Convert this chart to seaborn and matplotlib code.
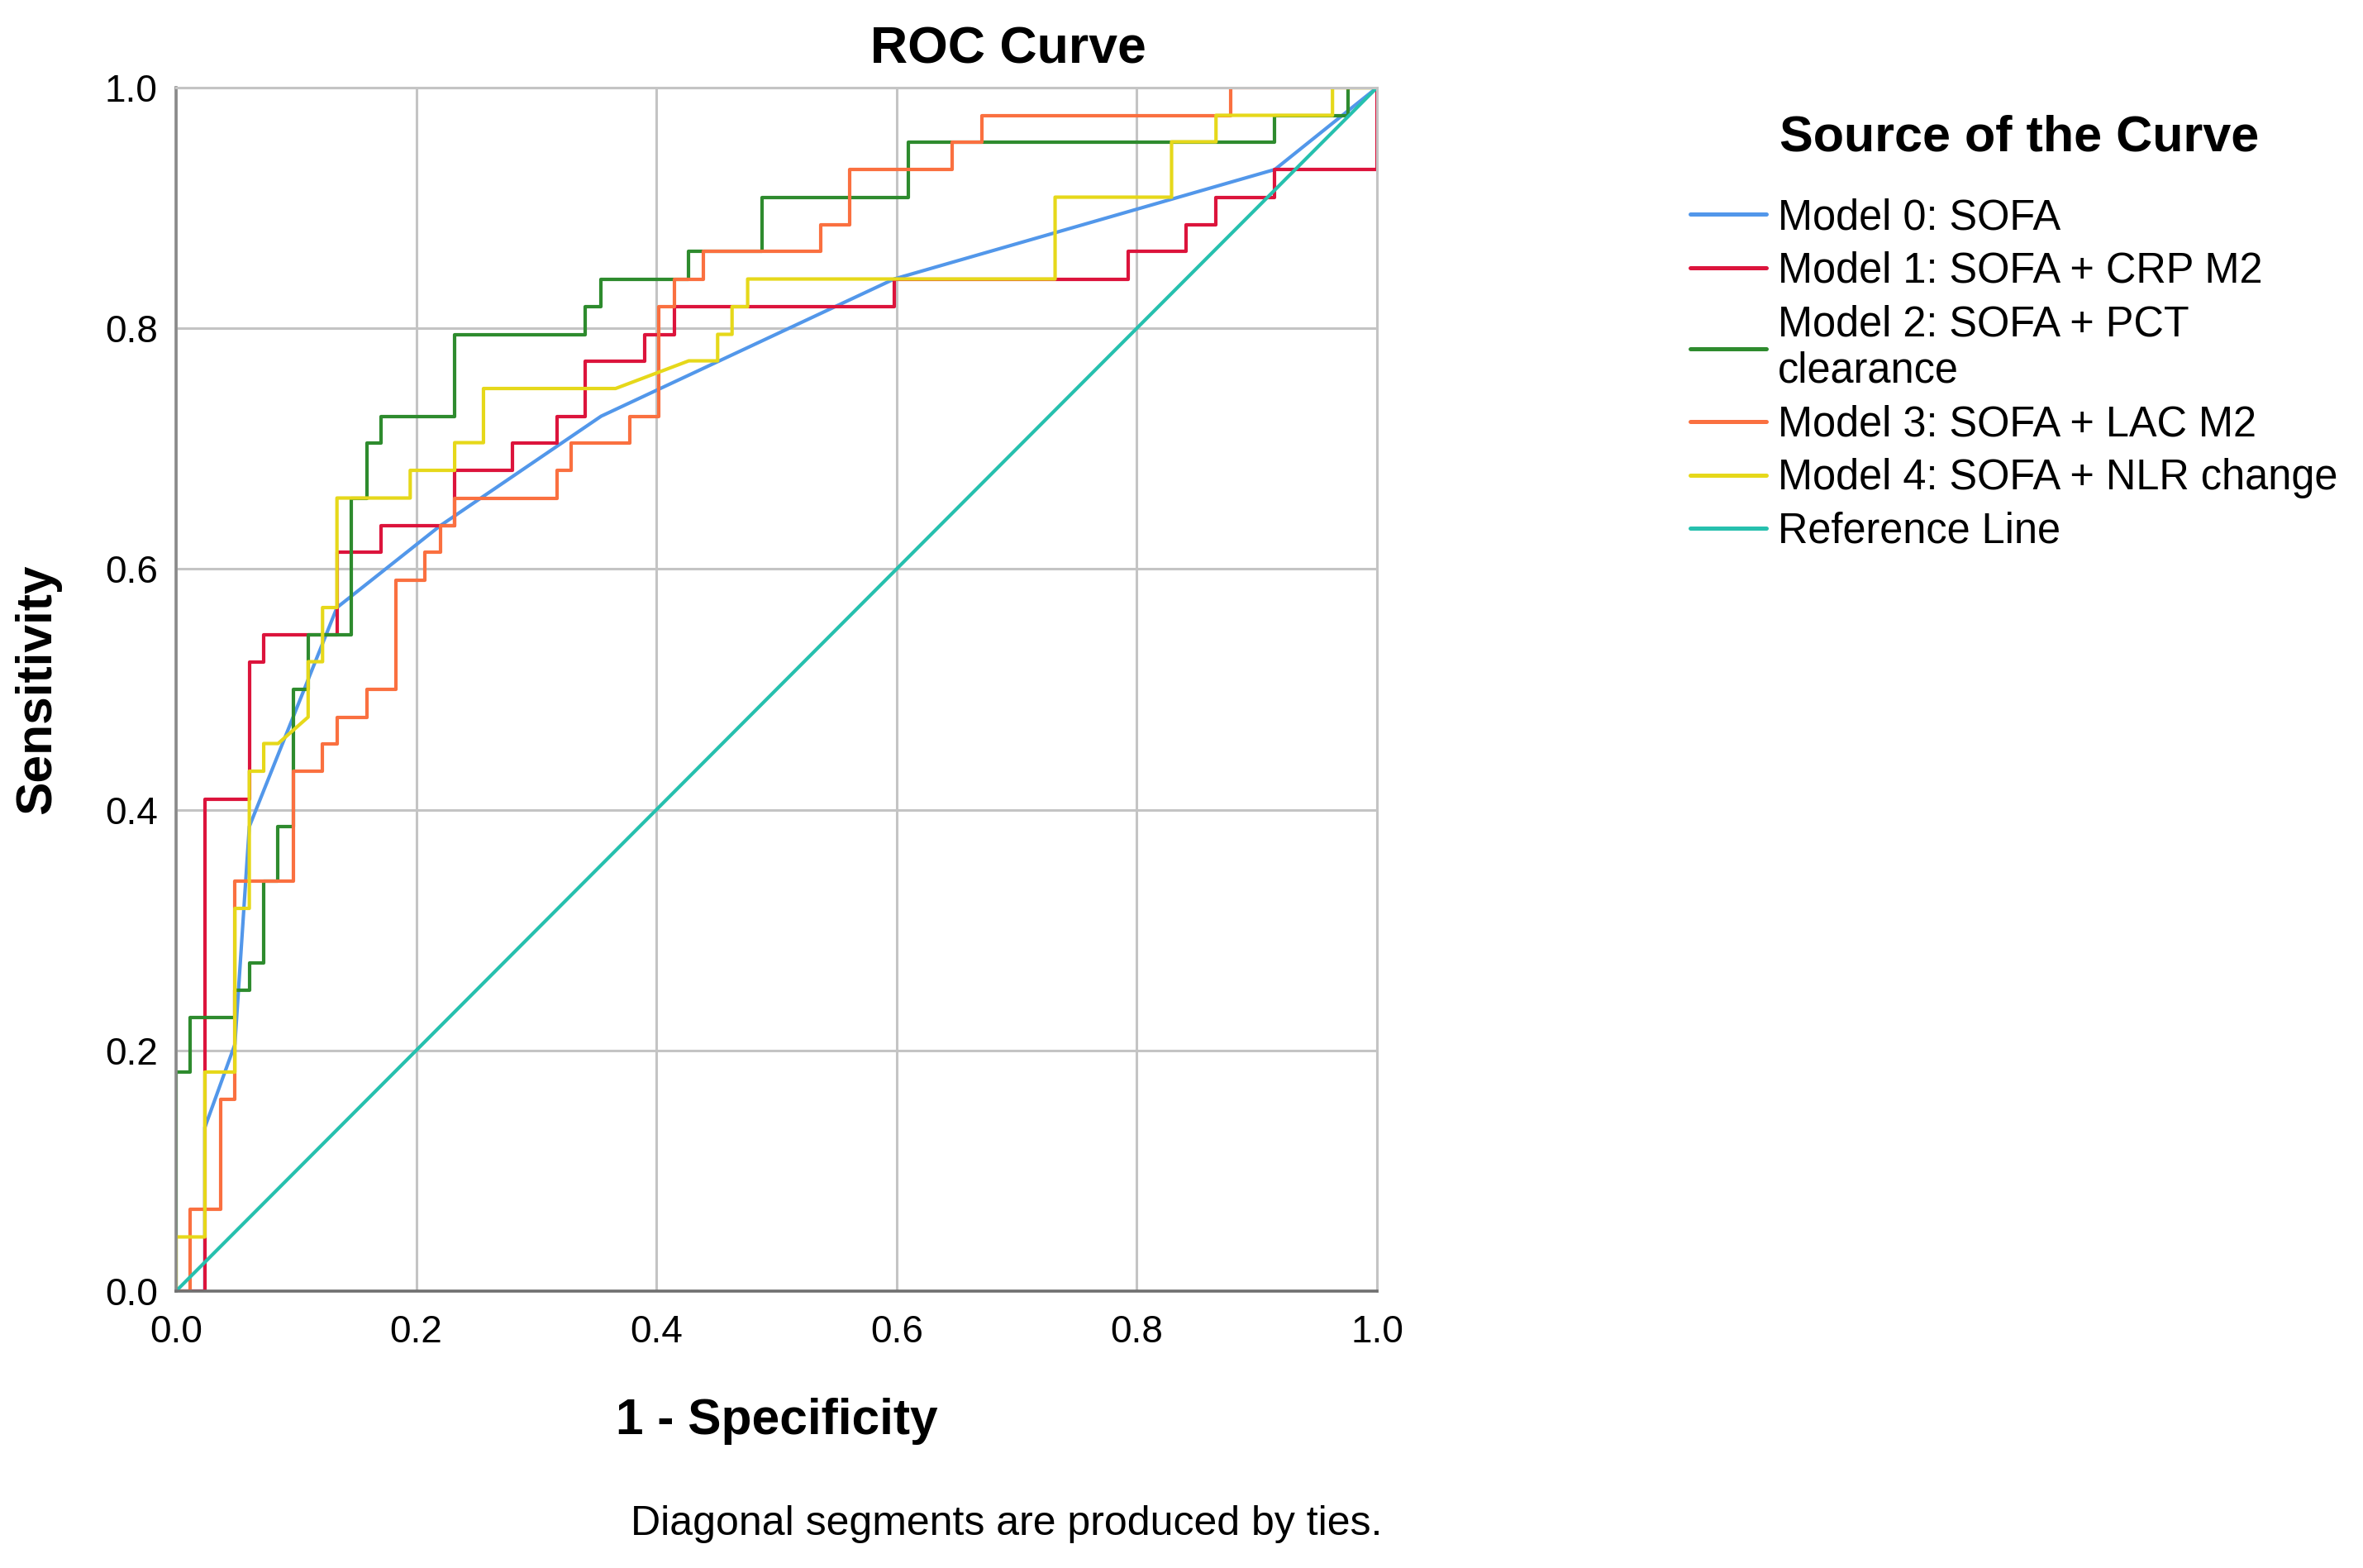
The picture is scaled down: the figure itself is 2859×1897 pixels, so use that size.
import matplotlib
matplotlib.use("Agg")
import matplotlib.pyplot as plt
from matplotlib.lines import Line2D
from matplotlib.ticker import FormatStrFormatter
import pandas as pd
import seaborn as sns

models = ["Model 0: SOFA", "Model 1: SOFA + CRP M2", "Model 2: SOFA + PCT\nclearance",
          "Model 3: SOFA + LAC M2", "Model 4: SOFA + NLR change", "Reference Line"]
colors = ["#5297ea", "#dc143c", "#2e8b2e", "#fa7040", "#e6d81a", "#26c0ae"]

# ROC points: 1 - specificity / sensitivity
fpr_m0 = [0.0, 0.024, 0.024, 0.049, 0.061, 0.134, 0.220, 0.354, 0.598, 0.915, 1.0]
tpr_m0 = [0.0, 0.0, 0.136, 0.205, 0.386, 0.568, 0.636, 0.727, 0.841, 0.932, 1.0]

fpr_m1 = [0.0, 0.024, 0.024, 0.061, 0.061, 0.073, 0.073, 0.134, 0.134, 0.171, 0.171, 0.232,
          0.232, 0.280, 0.280, 0.317, 0.317, 0.341, 0.341, 0.390, 0.390, 0.415, 0.415, 0.598,
          0.598, 0.793, 0.793, 0.841, 0.841, 0.866, 0.866, 0.915, 0.915, 1.0, 1.0]
tpr_m1 = [0.0, 0.0, 0.409, 0.409, 0.523, 0.523, 0.545, 0.545, 0.614, 0.614, 0.636, 0.636,
          0.682, 0.682, 0.705, 0.705, 0.727, 0.727, 0.773, 0.773, 0.795, 0.795, 0.818, 0.818,
          0.841, 0.841, 0.864, 0.864, 0.886, 0.886, 0.909, 0.909, 0.932, 0.932, 1.0]

fpr_m2 = [0.0, 0.0, 0.012, 0.012, 0.049, 0.049, 0.061, 0.061, 0.073, 0.073, 0.085, 0.085,
          0.098, 0.098, 0.110, 0.110, 0.146, 0.146, 0.159, 0.159, 0.171, 0.171, 0.232, 0.232,
          0.341, 0.341, 0.354, 0.354, 0.427, 0.427, 0.488, 0.488, 0.610, 0.610, 0.915, 0.915,
          0.976, 0.976, 1.0]
tpr_m2 = [0.0, 0.182, 0.182, 0.227, 0.227, 0.25, 0.25, 0.273, 0.273, 0.341, 0.341, 0.386,
          0.386, 0.5, 0.5, 0.545, 0.545, 0.659, 0.659, 0.705, 0.705, 0.727, 0.727, 0.795,
          0.795, 0.818, 0.818, 0.841, 0.841, 0.864, 0.864, 0.909, 0.909, 0.955, 0.955, 0.977,
          0.977, 1.0, 1.0]

fpr_m3 = [0.0, 0.012, 0.012, 0.037, 0.037, 0.049, 0.049, 0.098, 0.098, 0.122, 0.122, 0.134,
          0.134, 0.159, 0.159, 0.183, 0.183, 0.207, 0.207, 0.220, 0.220, 0.232, 0.232, 0.317,
          0.317, 0.329, 0.329, 0.378, 0.378, 0.402, 0.402, 0.415, 0.415, 0.439, 0.439, 0.537,
          0.537, 0.561, 0.561, 0.646, 0.646, 0.671, 0.671, 0.878, 0.878, 1.0]
tpr_m3 = [0.0, 0.0, 0.068, 0.068, 0.159, 0.159, 0.341, 0.341, 0.432, 0.432, 0.455, 0.455,
          0.477, 0.477, 0.5, 0.5, 0.591, 0.591, 0.614, 0.614, 0.636, 0.636, 0.659, 0.659,
          0.682, 0.682, 0.705, 0.705, 0.727, 0.727, 0.818, 0.818, 0.841, 0.841, 0.864, 0.864,
          0.886, 0.886, 0.932, 0.932, 0.955, 0.955, 0.977, 0.977, 1.0, 1.0]

fpr_m4 = [0.0, 0.0, 0.024, 0.024, 0.049, 0.049, 0.061, 0.061, 0.073, 0.073, 0.085, 0.110,
          0.110, 0.122, 0.122, 0.134, 0.134, 0.195, 0.195, 0.232, 0.232, 0.256, 0.256, 0.366,
          0.427, 0.451, 0.451, 0.463, 0.463, 0.476, 0.476, 0.732, 0.732, 0.829, 0.829, 0.866,
          0.866, 0.963, 0.963, 1.0]
tpr_m4 = [0.0, 0.045, 0.045, 0.182, 0.182, 0.318, 0.318, 0.432, 0.432, 0.455, 0.455, 0.477,
          0.523, 0.523, 0.568, 0.568, 0.659, 0.659, 0.682, 0.682, 0.705, 0.705, 0.75, 0.75,
          0.773, 0.773, 0.795, 0.795, 0.818, 0.818, 0.841, 0.841, 0.909, 0.909, 0.955, 0.955,
          0.977, 0.977, 1.0, 1.0]

fpr_ref = [0.0, 1.0]
tpr_ref = [0.0, 1.0]

ticks = [0.0, 0.2, 0.4, 0.6, 0.8, 1.0]

curves = [(fpr_m0, tpr_m0), (fpr_m1, tpr_m1), (fpr_m2, tpr_m2),
          (fpr_m3, tpr_m3), (fpr_m4, tpr_m4), (fpr_ref, tpr_ref)]
df = pd.concat([pd.DataFrame({"fpr": f, "tpr": t, "model": m})
                for m, (f, t) in zip(models, curves)], ignore_index=True)

sns.set_style("white")
plt.rcParams["font.family"] = ["Liberation Sans", "DejaVu Sans"]
plt.rcParams["text.color"] = "black"
plt.rcParams["axes.labelcolor"] = "black"

fig = plt.figure(figsize=(14.295, 9.485), dpi=200)
ax = fig.add_axes([0.0745, 0.1766, 0.5082, 0.7675])

sns.lineplot(data=df, x="fpr", y="tpr", hue="model", hue_order=models,
             palette=dict(zip(models, colors)), sort=False, estimator=None,
             linewidth=1.5, legend=False, ax=ax)

# axes, grid
ax.set_xlim(0, 1)
ax.set_ylim(0, 1)
ax.set_xticks(ticks)
ax.set_yticks(ticks)
ax.xaxis.set_major_formatter(FormatStrFormatter("%.1f"))
ax.yaxis.set_major_formatter(FormatStrFormatter("%.1f"))
ax.grid(True, color="#c4c4c4", linewidth=1.1)
ax.set_axisbelow(True)
ax.tick_params(axis="both", labelsize=16.5, length=3, width=0.8, color="#888888",
               labelcolor="black", direction="out")
ax.tick_params(axis="x", pad=7)
ax.tick_params(axis="y", pad=5)
for side in ["top", "right"]:
    ax.spines[side].set_color("#c4c4c4")
    ax.spines[side].set_linewidth(1.1)
ax.spines["left"].set_color("#8a8a8a")
ax.spines["left"].set_linewidth(1.3)
ax.spines["bottom"].set_color("#707070")
ax.spines["bottom"].set_linewidth(1.3)

ax.set_xlabel("1 - Specificity", fontsize=21.8, fontweight="bold")
ax.xaxis.set_label_coords(0.5, -0.108)
ax.xaxis.label.set_verticalalignment("center")
ax.set_ylabel("Sensitivity", fontsize=21.8, fontweight="bold")
ax.yaxis.set_label_coords(-0.115, 0.5)
ax.yaxis.label.set_verticalalignment("center")

fig.text(1220 / 2859, 1 - 60 / 1897, "ROC Curve", ha="center", va="center",
         fontsize=22.5, fontweight="bold")
fig.text(1218 / 2859, 1 - 1844 / 1897, "Diagonal segments are produced by ties.",
         ha="center", va="center", fontsize=18)

# legend
handles = [Line2D([], [], color=c, linewidth=1.8) for c in colors]
fig.legend(handles, models, loc="upper left", bbox_to_anchor=(2045 / 2859, 1 - 239 / 1897),
           frameon=False, fontsize=18.2, handlelength=1.82, handletextpad=0.28,
           labelspacing=0.31, borderpad=0, borderaxespad=0)
fig.text(2443 / 2859, 1 - 167 / 1897, "Source of the Curve", ha="center", va="center",
         fontsize=22, fontweight="bold")

fig.savefig("out.png", dpi=200)
